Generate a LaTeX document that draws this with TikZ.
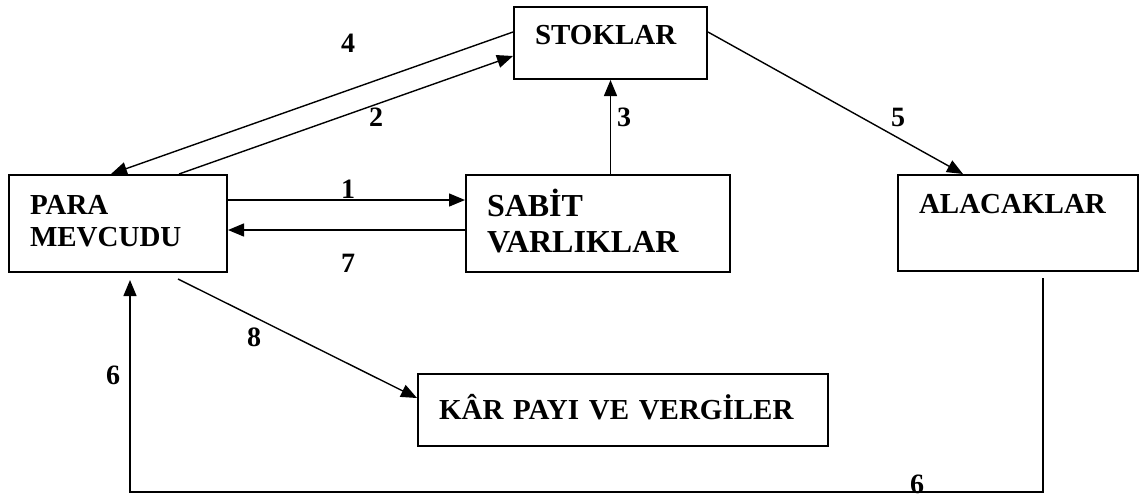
\documentclass[tikz,border=0pt]{standalone}
\usepackage{fontspec}
\setmainfont{Liberation Serif}
\usepackage{tikz}
\usetikzlibrary{arrows.meta}
\tikzset{
	box/.style={rectangle,draw,line width=1pt,align=left,anchor=north west,
		inner xsep=10.5pt,inner ysep=0pt,font=\bfseries\fontsize{14.5}{16}\selectfont},
	num/.style={font=\bfseries\fontsize{14}{16}\selectfont,inner sep=0pt}
}

\begin{document}
\begin{tikzpicture}[x=0.5pt,y=-0.5pt,->,>={Triangle[length=8pt,width=6.5pt]},line width=0.7pt]
	\useasboundingbox (0,0) rectangle (1140,500);
	\node [box,text width=75.5pt,text height=18.5pt,text depth=17.5pt] (stok) at (513,6) {STOKLAR};
	\node [box,text width=88pt,text height=19.5pt,text depth=29pt] (para) at (8,174) {PARA\\MEVCUDU};
	\node [box,font=\bfseries\fontsize{16}{18}\selectfont,text width=111pt,text height=20.5pt,text depth=28pt] (sabit) at (465,174) {SABİT\\VARLIKLAR};
	\node [box,text width=99pt,text height=19pt,text depth=29pt] (alacak) at (897,174) {ALACAKLAR};
	\node [box,text width=184pt,text height=22.5pt,text depth=13.5pt] (kar) at (417,373) {KÂR PAYI VE VERGİLER};
	% akislar
	\draw ([yshift=5.5pt]stok.west) -- ([xshift=-3.5pt]para.north);
	\draw ([xshift=30.5pt]para.north) -- ([yshift=-6.5pt]stok.west);
	\draw (sabit.north -| stok.south) -- (stok.south);
	\draw ([yshift=5.5pt]stok.east) -- ([xshift=-27.5pt]alacak.north);
	\draw ([yshift=11.75pt]para.east) -- ([yshift=11.75pt]sabit.west);
	\draw ([yshift=-3.25pt]sabit.west) -- ([yshift=-3.25pt]para.east);
	\draw ([xshift=30pt,yshift=-3pt]para.south) -- ([yshift=6pt]kar.west);
	\coordinate (bot) at (0,492);
	\coordinate (alacakout) at ([xshift=12.5pt,yshift=-3pt]alacak.south);
	\coordinate (parain) at ([xshift=6pt,yshift=-3.5pt]para.south);
	\draw (alacakout) -- (alacakout |- bot) -| (parain);
	% numaralar
	\node [num] (n4) at (348,43) {4};
	\node [num] (n2) at (376,117) {2};
	\node [num] (n3) at (624,117) {3};
	\node [num] (n5) at (898,117) {5};
	\node [num] (n1) at (348,189) {1};
	\node [num] (n7) at (348,263) {7};
	\node [num] (n8) at (254,337) {8};
	\node [num] (n6a) at (113,375) {6};
	\node [num] (n6b) at (917,484) {6};
\end{tikzpicture}
\end{document}
